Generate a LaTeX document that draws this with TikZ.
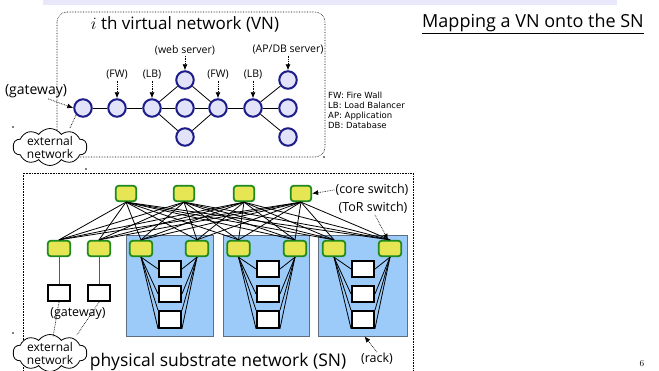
\documentclass[tikz,border=0pt]{standalone}
\usepackage{fontspec}
\setmainfont{Open Sans}
\newfontfamily\legendfont{DejaVu Sans}
\usetikzlibrary{shapes.symbols, arrows.meta}
\definecolor{vnblue}{HTML}{1C1C8A}
\definecolor{vnfill}{HTML}{E2E2F8}
\definecolor{swgreen}{HTML}{1E8A1E}
\definecolor{swyellow}{HTML}{E6E655}
\definecolor{rackfill}{HTML}{9CCBFA}
\definecolor{rackedge}{HTML}{5E6E80}
\definecolor{bandfill}{HTML}{E8E8FA}
\tikzset{
  vnode/.style={circle, draw=vnblue, fill=vnfill, line width=2pt, minimum size=17.5pt, inner sep=0pt},
  coresw/.style={rectangle, rounded corners=3pt, draw=swgreen, fill=swyellow, line width=1.8pt,
                 minimum width=20.5pt, minimum height=15.5pt, inner sep=0pt},
  torsw/.style={coresw, minimum width=22.5pt},
  server/.style={rectangle, draw=black, fill=white, line width=1.9pt,
                 minimum width=22pt, minimum height=16.5pt, inner sep=0pt},
  rackbox/.style={rectangle, draw=rackedge, fill=rackfill, line width=0.8pt, inner sep=0pt},
  extnet/.style={cloud, cloud puffs=10, cloud puff arc=110, aspect=2, draw=black, fill=white,
                 line width=0.8pt, minimum width=74pt, minimum height=37pt, inner sep=0pt},
  smalllbl/.style={font=\fontsize{10.5}{12}\selectfont, inner sep=1pt},
  midlbl/.style={font=\fontsize{12.5}{14}\selectfont, inner sep=1pt},
  cloudtxt/.style={font=\fontsize{12}{13}\selectfont, align=center, inner sep=0pt},
  callout/.style={densely dotted, line width=0.7pt, -{Latex[length=6pt,width=5pt]}},
  link/.style={line width=0.8pt, black},
  stray/.style={fill=black},
}
\begin{document}
\begin{tikzpicture}[x=1pt, y=-1pt]
\useasboundingbox (0,0) rectangle (659,370);

% header band
\fill[bandfill] (43,0) rectangle (617,5);

% ---------------- virtual network ----------------
\draw[densely dotted, line width=0.6pt, rounded corners=10pt] (57,12) rectangle (325,157);
\node[inner sep=0pt, font=\fontsize{17}{19}\selectfont] (vntitle) at (185,24) {$i$ th virtual network (VN)};

\node[vnode] (gw)  at (83,108) {};
\node[vnode] (fw1) at (117,108) {};
\node[vnode] (lb1) at (152,108) {};
\node[vnode] (w1)  at (185,80) {};
\node[vnode] (w2)  at (185,108) {};
\node[vnode] (w3)  at (185,137) {};
\node[vnode] (fw2) at (218,108) {};
\node[vnode] (lb2) at (253,108) {};
\node[vnode] (d1)  at (288,80) {};
\node[vnode] (d2)  at (288,108) {};
\node[vnode] (d3)  at (288,137) {};

\draw[link] (gw) -- (fw1);
\draw[link] (fw1) -- (lb1);
\foreach \s in {w1,w2,w3} {
  \draw[link] (lb1) -- (\s);
  \draw[link] (\s) -- (fw2);
}
\draw[link] (fw2) -- (lb2);
\foreach \s in {d1,d2,d3} \draw[link] (lb2) -- (\s);

\node[smalllbl] (lfw1) at (117,75) {(FW)};
\node[smalllbl] (llb1) at (152,75) {(LB)};
\node[smalllbl] (lweb) at (185,50) {(web server)};
\node[smalllbl] (lfw2) at (218,75) {(FW)};
\node[smalllbl] (llb2) at (253,75) {(LB)};
\node[smalllbl] (lapdb) at (288,50) {(AP/DB server)};
\draw[callout] (lfw1.south) -- (fw1.north);
\draw[callout] (llb1.south) -- (lb1.north);
\draw[callout] (lweb.south) -- (w1.north);
\draw[callout] (lfw2.south) -- (fw2.north);
\draw[callout] (llb2.south) -- (lb2.north);
\draw[callout] (lapdb.south) -- (d1.north);

\node[inner sep=1pt, font=\fontsize{14}{16}\selectfont] (lgw) at (36,91) {(gateway)};
\draw[callout] ([xshift=-20pt]lgw.south east) -- (gw.west);

\node[extnet] (vncloud) at (50,147) {};
\node[cloudtxt] (vncloudtxt) at (50,147) {external\\network};
\coordinate (vncloudtop) at (70,128);
\draw[densely dotted, line width=0.7pt] (vncloudtop) -- (gw.south west);

% legend
\node[anchor=north west, inner sep=0pt, align=left, font=\legendfont\fontsize{8.5}{9.9}\selectfont]
  (legend) at (328,92) {FW: Fire Wall\\LB: Load Balancer\\AP: Application\\DB: Database};

% heading
\node[inner sep=0pt, font=\fontsize{18}{20}\selectfont] (heading) at (533,24) {\underline{Mapping a VN onto the SN}};

% ---------------- physical substrate network ----------------
\draw[densely dotted, line width=0.6pt] (23,372) -- (23,173) -- (413,173) -- (413,372);

\node[rackbox, minimum width=87pt, minimum height=101pt] (r1) at (169.5,285.5) {};
\node[rackbox, minimum width=86pt, minimum height=101pt] (r2) at (266,285.5) {};
\node[rackbox, minimum width=89pt, minimum height=101pt] (r3) at (362.5,285.5) {};

\node[coresw] (c1) at (126,193.5) {};
\node[coresw] (c2) at (184,193.5) {};
\node[coresw] (c3) at (244,193.5) {};
\node[coresw] (c4) at (301,193.5) {};

\node[torsw] (t1) at (59,248.5) {};
\node[torsw] (t2) at (99,248.5) {};
\node[torsw] (t3) at (141,248.5) {};
\node[torsw] (t4) at (197,248.5) {};
\node[torsw] (t5) at (238.5,248.5) {};
\node[torsw] (t6) at (295,248.5) {};
\node[torsw] (t7) at (334,248.5) {};
\node[torsw] (t8) at (390,248.5) {};

\foreach \c in {c1,c2,c3,c4}
  \foreach \t in {t1,t2,t3,t4,t5,t6,t7,t8}
    \draw[link] (\c.south) -- (\t.north);

% servers in the racks
\foreach \r/\x/\l/\rr in {a/170/t3/t4, b/268/t5/t6, c/363/t7/t8} {
  \node[server] (\r1) at (\x,269) {};
  \node[server] (\r2) at (\x,294) {};
  \node[server] (\r3) at (\x,319.5) {};
  \draw[link] (\l.south) -- (\r1.west);
  \draw[link] (\l.south) -- (\r2.west);
  \draw[link] (\l.south) -- (\r3.north west);
  \draw[link] (\l.south) -- (\r3.south west);
  \draw[link] (\rr.south) -- (\r1.east);
  \draw[link] (\rr.south) -- (\r2.east);
  \draw[link] (\rr.south) -- (\r3.north east);
  \draw[link] (\rr.south) -- (\r3.south east);
}

% gateway servers
\node[server] (g1) at (59,293) {};
\node[server] (g2) at (99,293) {};
\draw[line width=0.8pt, black!65] (t1.south) -- (g1.north);
\draw[line width=0.8pt, black!65] (t2.south) -- (g2.north);

\node[extnet] (sncloud) at (50,353) {};
\node[cloudtxt] (sncloudtxt) at (50,353) {external\\network};
\coordinate (snca) at (53,337);
\coordinate (sncb) at (77,335);
\draw[densely dotted, line width=0.7pt] (g1.south) -- (snca);
\draw[densely dotted, line width=0.7pt] (g2.south) -- (sncb);
\node[midlbl] (lsngw) at (78,314) {(gateway)};

\node[midlbl] (lcore) at (372,190) {(core switch)};
\draw[callout] (lcore.west) -- (c4.east);
\node[midlbl] (ltor) at (373,208) {(ToR switch)};
\draw[callout] ([xshift=2pt]ltor.south) -- ([xshift=-2pt]t8.north);
\node[midlbl] (lrack) at (377,359) {(rack)};
\draw[callout] (lrack.north) -- ([xshift=2pt]r3.south);

\node[inner sep=0pt, font=\fontsize{17.5}{19}\selectfont] (sntitle) at (218,362) {physical substrate network (SN)};

% page number
\node[inner sep=0pt] (pageno) at (642,364) {\fontsize{9}{10}\selectfont$6$};

% stray marks
\fill[stray] (13,127) circle (0.8);
\fill[stray] (13,333) circle (0.8);
\fill[stray] (86,169) circle (0.8);
\fill[stray] (324,157) circle (0.8);
\end{tikzpicture}
\end{document}
